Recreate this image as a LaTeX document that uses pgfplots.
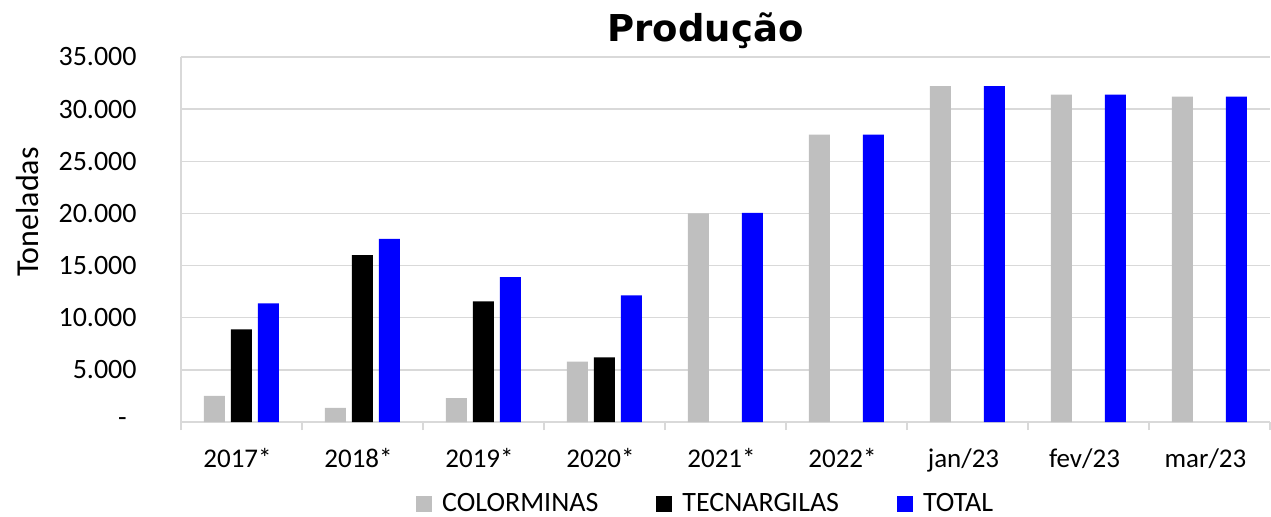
\documentclass[border=0pt]{standalone}
\usepackage{fontspec}
\setmainfont{Carlito}
\newfontfamily\titlefont{DejaVu Sans}
\usepackage{pgfplots}
\pgfplotsset{compat=1.18}
\definecolor{cgray}{HTML}{BFBFBF}
\definecolor{cblue}{HTML}{0000FF}
\definecolor{gridc}{HTML}{D9D9D9}
\begin{document}
\begin{tikzpicture}
\begin{axis}[
  at={(0,0)}, anchor=south west,
  scale only axis, width=544.5pt, height=182.5pt,
  ymin=0, ymax=35000, xmin=-0.5, xmax=8.5,
  scaled y ticks=false,
  ybar=3pt, bar width=10.5pt,
  axis lines=left,
  axis line style={-, draw=gridc, line width=0.75pt},
  ymajorgrids, grid style={draw=gridc, line width=0.75pt},
  ytick={0,5000,10000,15000,20000,25000,30000,35000},
  yticklabels={{-\hspace*{5pt}},5.000,10.000,15.000,20.000,25.000,30.000,35.000},
  xtick={0,1,2,3,4,5,6,7,8},
  xticklabels={2017*,2018*,2019*,2020*,2021*,2022*,jan/23,fev/23,mar/23},
  minor xtick={-0.5,0.5,1.5,2.5,3.5,4.5,5.5,6.5,7.5,8.5},
  major tick length=0pt, minor tick length=4pt, tick align=outside,
  minor tick style={draw=gridc, line width=0.75pt},
  yticklabel style={anchor=east, inner sep=0pt, xshift=-22pt, font=\fontsize{14}{16}\selectfont},
  xticklabel style={anchor=base, inner sep=0pt, yshift=-22.5pt, xshift=-2pt, font=\fontsize{13.5}{16}\selectfont},
  title={Produção},
  title style={font=\titlefont\bfseries\fontsize{18.5}{22}\selectfont, at={(axis description cs:0.4816,1)}, anchor=base, yshift=1.65pt},
  ylabel={Toneladas},
  ylabel style={at={(axis description cs:-0.1405,0.575)}, anchor=center, font=\fontsize{16}{18}\selectfont},
  legend style={at={(axis description cs:0.4827,-0.2247)}, anchor=center, draw=none, fill=none,
    legend columns=-1, font=\fontsize{14}{16}\selectfont,
    nodes={inner ysep=1pt},
    /tikz/every odd column/.append style={column sep=3pt},
    /tikz/every even column/.append style={column sep=27pt}},
  legend image code/.code={\fill[#1] (0pt,-4pt) rectangle (8pt,4pt);},
]
\addplot[fill=cgray, draw=none] coordinates {(0,2500) (1,1350) (2,2300) (3,5800) (4,20000) (5,27550) (6,32200) (7,31400) (8,31200)};
\addplot[fill=black, draw=none] coordinates {(0,8880) (1,16000) (2,11570) (3,6190)};
\addplot[fill=cblue, draw=none] coordinates {(0,11370) (1,17550) (2,13900) (3,12140) (4,20050) (5,27550) (6,32200) (7,31400) (8,31200)};
\legend{COLORMINAS, TECNARGILAS, TOTAL}
\end{axis}
\pgfresetboundingbox
\path (-90.5pt,-47pt) rectangle (545pt,211pt);
\end{tikzpicture}
\end{document}
